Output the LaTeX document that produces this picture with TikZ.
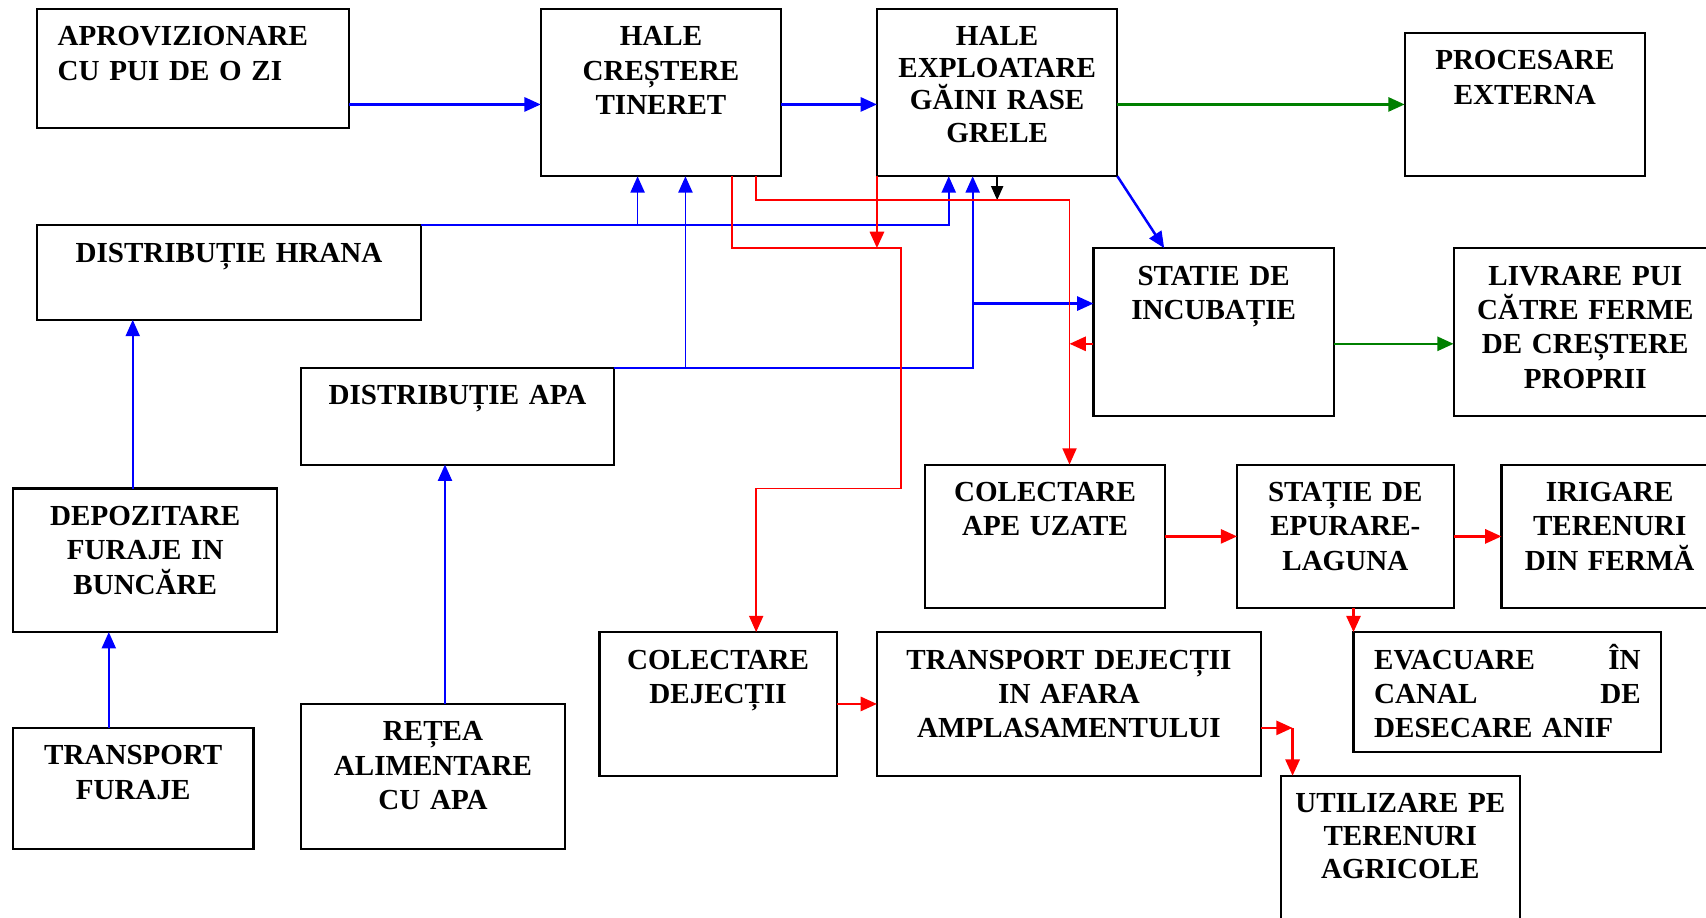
\documentclass[tikz,border=0pt]{standalone}
\usepackage{fontspec}
\setmainfont{Liberation Serif}
\usepackage{tikz}
\usetikzlibrary{arrows.meta,positioning}
\definecolor{flowblue}{HTML}{0000FF}
\definecolor{flowred}{HTML}{FF0000}
\definecolor{flowgreen}{HTML}{008000}

\begin{document}
\begin{tikzpicture}[
  blk/.style={draw,line width=0.55pt,outer sep=0pt,inner xsep=1mm,inner ysep=0pt,text height=3.4mm,align=center,anchor=north west,font=\bfseries\fontsize{7.6}{9}\selectfont},
  bl/.style={color=flowblue,line width=0.65pt,-{Triangle[length=1.5mm,width=1.3mm]}},
  feed/.style={bl,line width=0.45pt},
  gr/.style={color=flowgreen,line width=0.65pt,-{Triangle[length=1.5mm,width=1.3mm]}},
  rd/.style={color=flowred,line width=0.65pt,-{Triangle[length=1.5mm,width=1.3mm]}},
  rdthin/.style={rd,line width=0.4pt},
  bk/.style={black,line width=0.55pt,-{Triangle[length=1.3mm,width=1.1mm]}}]
\useasboundingbox (0,0) rectangle (156.8mm,-84.3mm);
\node[blk,align=left,inner xsep=1.9mm,text width=24.9mm,text depth=7.6mm] (pui) at (3.4mm,-0.8mm) {APROVIZIONARE\\CU PUI DE O ZI};
\node[blk,text width=20.1mm,text depth=12mm,below right=0mm and 17.6mm of pui.north east] (tin) {HALE\\CREȘTERE\\TINERET};
\node[blk,text width=20.1mm,text depth=12mm,font=\bfseries\fontsize{7.6}{8.4}\selectfont,below right=0mm and 8.8mm of tin.north east] (hale) {HALE\\EXPLOATARE\\GĂINI RASE\\GRELE};
\node[blk,text width=20.1mm,text depth=9.8mm,below right=2.2mm and 26.4mm of hale.north east] (proc) {PROCESARE\\EXTERNA};
\node[blk,text width=33.3mm,text depth=5.3mm,below right=8.9mm and 0mm of pui.south west] (hrana) {DISTRIBUȚIE HRANA};
\node[blk,text width=20.1mm,text depth=12mm,below right=6.6mm and 19.9mm of hale.south west] (incub) {STATIE DE\\INCUBAȚIE};
\node[blk,text width=22.2mm,text depth=12mm,below right=0mm and 11mm of incub.north east] (livr) {LIVRARE PUI\\CĂTRE FERME\\DE CREȘTERE\\PROPRII};
\node[blk,text width=26.7mm,text depth=5.5mm,below right=4.4mm and 24.3mm of hrana.south west] (apa) {DISTRIBUȚIE APA};
\node[blk,text width=22.3mm,text depth=9.8mm,below right=15.5mm and -2.2mm of hrana.south west] (depoz) {DEPOZITARE\\FURAJE IN\\BUNCĂRE};
\node[blk,text width=20.1mm,text depth=7.7mm,below right=8.8mm and 0mm of depoz.south west] (tfur) {TRANSPORT\\FURAJE};
\node[blk,text width=22.2mm,text depth=9.9mm,below right=22mm and 0mm of apa.south west] (retea) {REȚEA\\ALIMENTARE\\CU APA};
\node[blk,text width=20.1mm,text depth=9.8mm,below right=26.5mm and 4.4mm of hale.south west] (apeuz) {COLECTARE\\APE UZATE};
\node[blk,text width=17.9mm,text depth=9.8mm,below right=0mm and 6.6mm of apeuz.north east] (epur) {STAȚIE DE\\EPURARE-\\LAGUNA};
\node[blk,text width=17.9mm,text depth=9.8mm,below right=0mm and 4.4mm of epur.north east] (irig) {IRIGARE\\TERENURI\\DIN FERMĂ};
\node[blk,text width=19.8mm,text depth=9.8mm,below right=15.4mm and 27.4mm of apa.south west] (dej) {COLECTARE\\DEJECȚII};
\node[blk,text width=33.3mm,text depth=9.8mm,below right=0mm and 3.7mm of dej.north east] (tdej) {TRANSPORT DEJECȚII\\IN AFARA\\AMPLASAMENTULUI};
\node[blk,align=left,inner xsep=1.9mm,text width=24.5mm,text depth=7.6mm,below right=2.2mm and 10.7mm of epur.south west] (evac) {EVACUARE\hfill ÎN\\CANAL\hfill DE\\DESECARE ANIF};
\node[blk,text width=20mm,text depth=12mm,font=\bfseries\fontsize{7.6}{8.6}\selectfont,below right=0mm and 1.8mm of tdej.south east] (util) {UTILIZARE PE\\TERENURI\\AGRICOLE};

\coordinate (hfeed) at ([xshift=6.6mm]hale.south west);
\coordinate (afeed) at ([xshift=8.8mm]hale.south west);
\coordinate (ttop) at ([yshift=-2.2mm]hale.south);
\coordinate (wcol) at ([xshift=13.3mm]apeuz.north west);
\coordinate (hatch) at ([yshift=-8.8mm]incub.north west);
\coordinate (dbend) at ([xshift=2.2mm]hale.south west |- incub.north);
\coordinate (ubend) at ([xshift=2.9mm,yshift=-8.8mm]tdej.north east);

\draw[bl] (pui.east |- proc.west) -- (tin.west |- proc.west);
\draw[bl] (tin.east |- proc.west) -- (hale.west |- proc.west);
\draw[gr] (hale.east |- proc.west) -- (proc.west);
\draw[feed] (hrana.north east) -| (hfeed);
\draw[feed] ([xshift=8.9mm]tin.south west |- hrana.north) -- ([xshift=8.9mm]tin.south west);
\draw[feed] (apa.north east) -| (afeed);
\draw[feed] ([xshift=13.3mm]tin.south west |- apa.north) -- ([xshift=13.3mm]tin.south west);
\draw[bl] ([yshift=-5.1mm]incub.north west -| afeed) -- ([yshift=-5.1mm]incub.north west);
\draw[bl] (hale.south east) -- ([xshift=6.5mm]incub.north west);
\draw[feed] ([xshift=8.8mm]hrana.south west |- depoz.north) -- ([xshift=8.8mm]hrana.south west);
\draw[feed] ([xshift=8.8mm]depoz.south west |- tfur.north) -- ([xshift=8.8mm]depoz.south west);
\draw[feed] ([xshift=13.2mm]apa.south west |- retea.north) -- ([xshift=13.2mm]apa.south west);
\draw[gr] (incub.east |- hatch) -- (livr.west |- hatch);
\draw[bk] (hale.south) -- (ttop);
\draw[rdthin] ([xshift=19.8mm]tin.south west) |- (ttop) -| (wcol);
\draw[rdthin] ([xshift=17.6mm]tin.south west) |- (dbend) |- ([xshift=14.4mm]dej.north west |- depoz.north) -- ([xshift=14.4mm]dej.north west);
\draw[rd] (hale.south west) -- (hale.south west |- incub.north);
\draw[rd] (incub.west |- hatch) -- (wcol |- hatch);
\draw[rd] (apeuz) -- (epur);
\draw[rd] (epur) -- (irig);
\draw[rd] (epur.south -| evac.north west) -- (evac.north west);
\draw[rd] (dej) -- (tdej);
\draw[rd] ([yshift=-8.8mm]tdej.north east) -- (ubend);
\draw[rd] (ubend) -- (ubend |- util.north);
\end{tikzpicture}
\end{document}
